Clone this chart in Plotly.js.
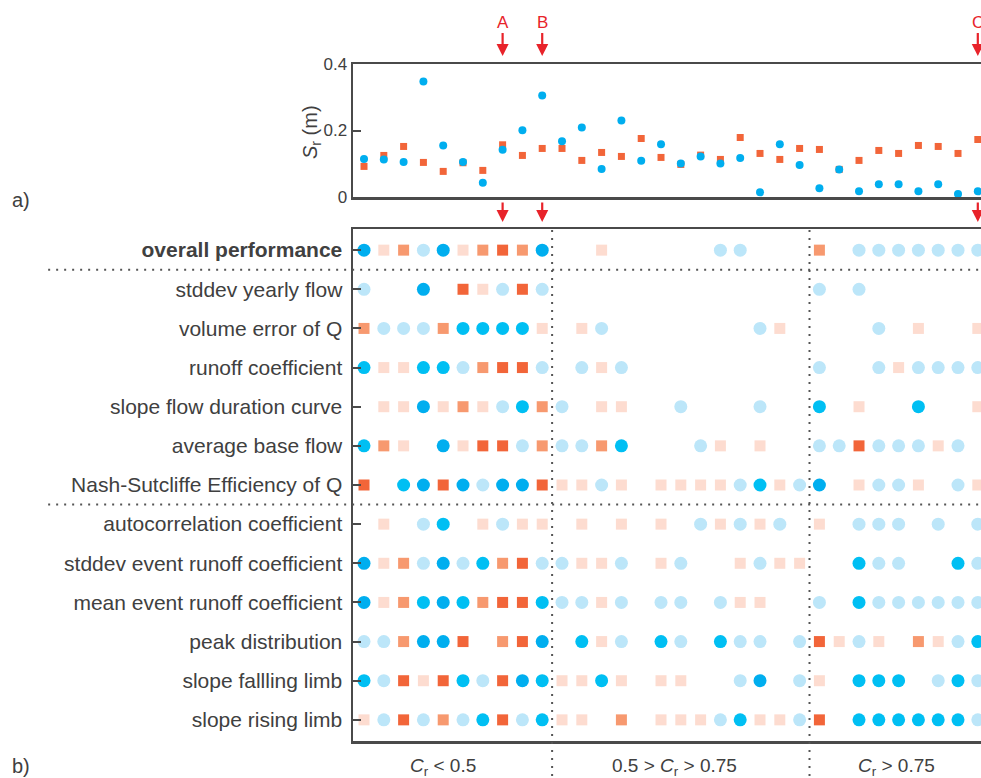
<!DOCTYPE html>
<html>
<head>
<meta charset="utf-8">
<script src="https://cdn.plot.ly/plotly-3.0.1.min.js"></script>
<style>
html,body{margin:0;padding:0;overflow:hidden;background:#fff;}
#wrap{width:981px;height:778px;overflow:hidden;position:relative;}
#chart{width:1100px;height:778px;}
</style>
</head>
<body>
<div id="wrap"><div id="chart"></div></div>
<script>
// ---------- data ----------
const catchments = [0,1,2,3,4,5,6,7,8,9,10,11,12,13,14,15,16,17,18,19,20,21,22,23,24,25,26,27,28,29,30,31];

// panel a) S_r (m)
const srBlue = [0.114,0.113,0.105,0.347,0.155,0.105,0.043,0.142,0.201,0.305,0.168,0.209,0.084,0.230,0.109,0.159,0.101,0.122,0.101,0.117,0.014,0.159,0.096,0.026,0.083,0.017,0.038,0.038,0.017,0.038,0.009,0.017];
const srOrange = [0.092,0.125,0.152,0.104,0.077,0.103,0.080,0.157,0.125,0.146,0.146,0.110,0.134,0.122,0.176,0.119,0.098,0.126,0.113,0.179,0.131,0.113,0.146,0.143,0.083,0.110,0.140,0.131,0.155,0.152,0.131,0.173];

const markedCatchments = [7, 9, 31];
const markedLabels = ['A', 'B', 'C'];

// panel b) signature labels
const signatureLabels = [
  '<b>overall performance</b>',
  'stddev yearly flow',
  'volume error of Q',
  'runoff coefficient',
  'slope flow duration curve',
  'average base flow',
  'Nash-Sutcliffe Efficiency of Q',
  'autocorrelation coefficient',
  'stddev event runoff coefficient',
  'mean event runoff coefficient',
  'peak distribution',
  'slope fallling limb',
  'slope rising limb'
];

// scores: 3/2/1 = blue circles (strong..weak), -1/-2/-3 = orange squares (weak..strong), 0 = none
const overallPerformance   = [3,-1,-2,1,3,-1,-2,-3,-2,3, 0,0,-1,0,0,0,0,0,1,1,0,0,0, -2,0,1,1,1,1,1,1,1];
const stddevYearlyFlow     = [1,0,0,3,0,-3,-1,1,-3,1, 0,0,0,0,0,0,0,0,0,0,0,0,0, 1,0,1,0,0,0,0,0,0];
const volumeErrorQ         = [-2,1,1,1,-2,2,2,2,2,-1, 0,-1,1,0,0,0,0,0,0,0,1,-1,0, 0,0,0,1,0,-1,0,0,-1];
const runoffCoefficient    = [2,-1,-1,2,2,1,-2,-3,-3,1, 0,1,-1,1,0,0,0,0,0,0,0,0,0, 1,0,0,1,-1,1,1,1,1];
const slopeFDC             = [0,-1,-1,3,-1,-2,-1,1,2,-2, 1,0,-1,-1,0,0,1,0,0,0,1,0,0, 2,0,-1,0,0,2,0,0,-1];
const averageBaseFlow      = [2,-2,-1,0,3,-1,-3,-3,1,-2, 1,1,-2,2,0,0,0,1,-1,0,-1,0,0, 1,1,-3,1,1,1,-1,1,0];
const nashSutcliffe        = [-3,0,2,3,-3,3,1,3,3,-3, -1,-1,1,-1,0,-1,-1,-1,-1,1,2,-1,1, 3,0,-1,1,1,-1,0,1,-1];
const autocorrelation      = [0,-1,0,1,2,0,-1,1,-1,-1, 0,-1,0,-1,0,-1,0,1,-1,1,-1,1,0, -1,0,1,1,1,0,1,0,1];
const stddevEventRC        = [3,-1,-2,1,3,1,2,-2,-3,1, 1,-1,-1,1,0,-1,1,0,0,-1,1,-1,-1, 0,0,2,1,1,0,0,2,1];
const meanEventRC          = [3,-1,-2,2,3,2,-2,-3,-3,2, 1,1,-1,1,0,1,1,0,1,-1,-1,0,0, 1,0,2,1,1,1,1,1,1];
const peakDistribution     = [1,1,-2,3,3,-3,0,-2,-3,3, 0,2,-1,1,0,2,1,0,2,1,1,0,1, -3,-1,1,-1,0,-2,-1,1,2];
const slopeFallingLimb     = [2,1,-3,-1,-3,2,1,-3,3,2, -1,-1,2,-1,0,-1,-1,0,0,1,3,0,1, -1,0,2,2,2,0,1,2,1];
const slopeRisingLimb      = [-1,1,-3,1,-2,1,2,-3,1,2, -1,-1,0,-2,0,-1,-1,-1,1,2,-1,-1,1, -3,0,2,2,2,2,2,2,1];

const scoreRows = [overallPerformance, stddevYearlyFlow, volumeErrorQ, runoffCoefficient, slopeFDC,
  averageBaseFlow, nashSutcliffe, autocorrelation, stddevEventRC, meanEventRC, peakDistribution,
  slopeFallingLimb, slopeRisingLimb];

const groupLabels = ['<i>C</i><sub>r</sub> &lt; 0.5', '0.5 &gt; <i>C</i><sub>r</sub> &gt; 0.75', '<i>C</i><sub>r</sub> &gt; 0.75'];
const groupLabelPos = [3.99, 15.7, 26.9];
const groupBreaks = [9.5, 22.5];
const sectionBreaks = [0.5, 6.5];

// ---------- styles ----------
const levelStyle = {
  '3':  {color:'#00aeef', symbol:'circle', size:13},
  '2':  {color:'#00bff3', symbol:'circle', size:13},
  '1':  {color:'#bce6f9', symbol:'circle', size:13},
  '-1': {color:'#fddcd0', symbol:'square', size:11},
  '-2': {color:'#f7996f', symbol:'square', size:11},
  '-3': {color:'#f26539', symbol:'square', size:11}
};
const FONT = 'Liberation Sans, Arial, sans-serif';
const txtColor = '#404040';
const axColor = '#4a4a4a';
const arrowRed = '#e8232a';

// ---------- traces ----------
const traces = [];
traces.push({x:catchments, y:srOrange, type:'scatter', mode:'markers', xaxis:'x', yaxis:'y',
  marker:{symbol:'square', size:7, color:'#f26539'}, cliponaxis:false, hoverinfo:'skip'});
traces.push({x:catchments, y:srBlue, type:'scatter', mode:'markers', xaxis:'x', yaxis:'y',
  marker:{symbol:'circle', size:8, color:'#00aeef'}, cliponaxis:false, hoverinfo:'skip'});

Object.keys(levelStyle).forEach(function(lv){
  const xs = [], ys = [];
  scoreRows.forEach(function(row, k){
    row.forEach(function(v, i){ if (String(v) === lv) { xs.push(catchments[i]); ys.push(k); } });
  });
  const st = levelStyle[lv];
  traces.push({x:xs, y:ys, type:'scatter', mode:'markers', xaxis:'x2', yaxis:'y2',
    marker:{symbol:st.symbol, size:st.size, color:st.color, line:{width:0}}, cliponaxis:false, hoverinfo:'skip'});
});

// ---------- layout ----------
const H = 778;
const pxY = function(p){ return 1 - p / H; };
const xRange = [-0.556, 32.626];

const shapes = [];
groupBreaks.forEach(function(g){
  shapes.push({type:'line', xref:'x2', yref:'paper', x0:g, x1:g, y0:pxY(230), y1:0,
    line:{color:'#555', width:2, dash:'2px,6px'}});
});
sectionBreaks.forEach(function(s){
  shapes.push({type:'line', xref:'paper', yref:'y2', x0:-0.464, x1:1, y0:s, y1:s,
    line:{color:'#555', width:2, dash:'2px,6px'}});
});

const annotations = [];
markedCatchments.forEach(function(c, j){
  annotations.push({xref:'x', yref:'paper', x:c, y:pxY(56), ax:0, ay:-34, text:markedLabels[j],
    showarrow:true, arrowcolor:arrowRed, arrowwidth:2.2, arrowhead:2, arrowsize:1.1,
    font:{family:FONT, size:17, color:arrowRed}});
  annotations.push({xref:'x', yref:'paper', x:c, y:pxY(222), ax:0, ay:-21, text:'',
    showarrow:true, arrowcolor:arrowRed, arrowwidth:2.2, arrowhead:2, arrowsize:1.1});
});
groupLabels.forEach(function(t, j){
  annotations.push({xref:'x2', yref:'paper', x:groupLabelPos[j], y:pxY(767), text:t, showarrow:false,
    xanchor:'center', yanchor:'middle', font:{family:FONT, size:19, color:txtColor}});
});
annotations.push({xref:'paper', yref:'paper', x:(311-353)/657, y:pxY(132), text:'<i>S</i><sub>r</sub> (m)',
  textangle:-90, showarrow:false, xanchor:'center', yanchor:'middle',
  font:{family:FONT, size:20, color:txtColor}});
annotations.push({xref:'paper', yref:'paper', x:(10-353)/657, y:pxY(200), text:'a)', showarrow:false,
  xanchor:'left', yanchor:'middle', font:{family:FONT, size:20, color:txtColor}});
annotations.push({xref:'paper', yref:'paper', x:(10-353)/657, y:pxY(766), text:'b)', showarrow:false,
  xanchor:'left', yanchor:'middle', font:{family:FONT, size:20, color:txtColor}});

const layout = {
  width:1100, height:H,
  margin:{l:353, r:90, t:0, b:0, pad:0},
  paper_bgcolor:'#fff', plot_bgcolor:'#fff',
  showlegend:false,
  font:{family:FONT, size:17, color:txtColor},
  xaxis:{domain:[0,1], range:xRange, anchor:'y', showticklabels:false, ticks:'', showgrid:false, zeroline:false,
    showline:true, mirror:true, linecolor:axColor, linewidth:2.5},
  yaxis:{domain:[pxY(197), pxY(64)], range:[0,0.4], anchor:'x', tickvals:[0,0.2,0.4], ticktext:['0','0.2','0.4'],
    ticks:'inside', ticklen:8, tickwidth:2, tickcolor:axColor, showgrid:false, zeroline:false,
    showline:true, mirror:true, linecolor:axColor, linewidth:2.5,
    tickfont:{size:17, color:txtColor}},
  xaxis2:{domain:[0,1], range:xRange, anchor:'y2', showticklabels:false, ticks:'', showgrid:false, zeroline:false,
    showline:true, mirror:true, linecolor:axColor, linewidth:2.5},
  yaxis2:{domain:[pxY(741), pxY(229)], range:[12.54,-0.54], anchor:'x2', tickvals:signatureLabels.map(function(_,k){return k;}),
    ticktext:signatureLabels, ticks:'inside', ticklen:8, tickwidth:2, tickcolor:axColor, showgrid:false, zeroline:false,
    showline:true, mirror:true, linecolor:axColor, linewidth:2.5, ticklabelstandoff:4,
    tickfont:{size:21, color:txtColor}},
  shapes:shapes,
  annotations:annotations
};

Plotly.newPlot('chart', traces, layout, {staticPlot:true, displayModeBar:false});
</script>
</body>
</html>
